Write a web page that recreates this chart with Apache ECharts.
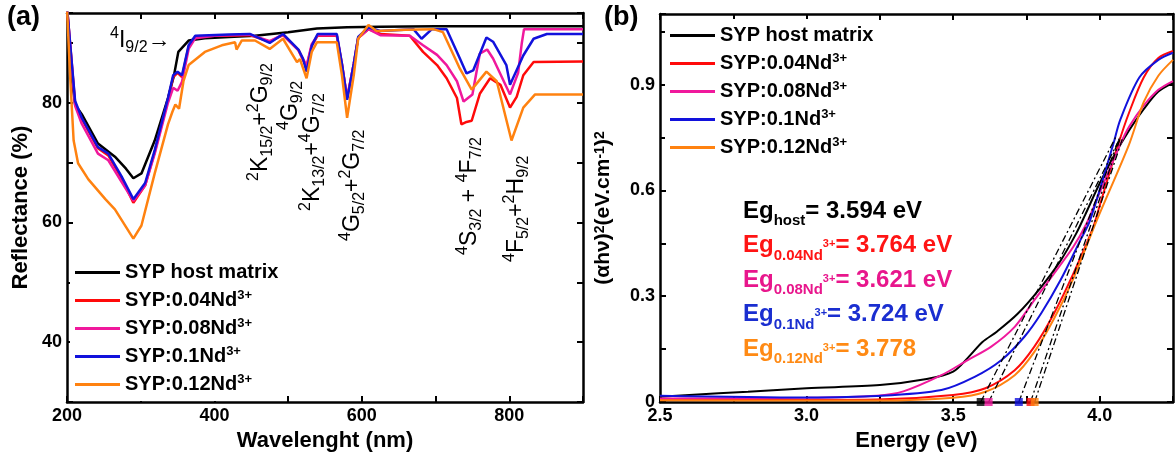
<!DOCTYPE html>
<html>
<head>
<meta charset="utf-8">
<script src="https://cdn.jsdelivr.net/npm/echarts@6/dist/echarts.min.js"></script>
<style>
html,body{margin:0;padding:0;background:#fff;}
#chart{width:1176px;height:457px;}
</style>
</head>
<body>
<div id="chart"></div>
<script>
// ---- data ----
var names = ['SYP host matrix', 'SYP:0.04Nd3+', 'SYP:0.08Nd3+', 'SYP:0.1Nd3+', 'SYP:0.12Nd3+'];
var colors = ['#000000', '#ff0a0a', '#f0189c', '#1212dc', '#ff8210'];
var textColors = ['#000000', '#ff1414', '#e8168c', '#1a2ed0', '#ff8a14'];

// (a) reflectance, [wavelength nm, R %]
var reflHost = [[200,96],[206,84.6],[211,79.7],[220,78.1],[242,73.2],[265,71],[280,69],[290,67.4],[301,68.2],[319,73.7],[337,80.8],[345,84.5],[351,88.5],[365,90.4],[387,90.8],[420,91.0],[455,91.2],[500,91.8],[539,92.4],[580,92.6],[625,92.7],[700,92.8],[900,92.8]];
var refl004 = [[200,96],[211,80],[220,77.3],[242,72.4],[256,71.2],[274,67.4],[290,63.3],[306,66.2],[319,71.8],[337,80.5],[344,84.3],[350,85.0],[356,84.3],[365,89.4],[374,91.0],[400,91.2],[448,91.3],[475,90.2],[493,91.3],[514,88.8],[520,87.2],[525,86.0],[532,89.5],[540,91.2],[566,91.2],[573,86.5],[580,80.8],[589,86.5],[595,90.8],[609,92.3],[625,91.5],[665,91.2],[683,88.5],[702,86.3],[715,84.1],[729,80.8],[735,76.4],[742,76.8],[749,77.0],[760,81.5],[774,84.1],[788,83.0],[801,79.2],[810,81.0],[819,84.6],[833,86.8],[900,86.9]];
var refl008 = [[200,96],[211,79.5],[220,76.5],[242,71.5],[256,70.4],[274,66.8],[290,63.6],[306,66.2],[319,71.5],[337,80],[344,82.5],[350,82],[356,83.5],[365,89],[374,90.8],[400,91.2],[448,91.4],[475,90.3],[493,91.4],[514,88.8],[520,87.4],[525,86.2],[532,89.8],[540,91.3],[566,91.3],[573,86.3],[580,80.8],[589,86.5],[595,90.8],[609,92.3],[625,91.3],[665,91.2],[683,89.6],[702,88],[715,86.3],[729,83.6],[738,80.2],[750,81.4],[760,88.2],[770,88.9],[778,87.4],[801,81.4],[812,85],[817,90],[820,92.3],[900,92.3]];
var refl010 = [[200,96],[211,80.3],[220,77.5],[242,72.6],[256,71.5],[274,67.7],[290,63.9],[306,66.6],[319,72.1],[337,80.8],[344,84.6],[350,85.2],[356,84.6],[365,89.6],[374,91.2],[420,91.4],[448,91.5],[475,90],[493,91.5],[514,88.9],[520,87.4],[525,85.2],[532,89.5],[540,91.5],[566,91.5],[573,86.5],[580,80.5],[589,86.5],[595,91],[609,92.6],[625,92],[670,92.3],[681,90.7],[695,92.3],[715,92.3],[733,87.4],[742,84.9],[751,85.4],[769,90.9],[778,90.2],[796,86.3],[801,83.0],[819,87.9],[833,90.7],[851,91.5],[900,91.5]];
var refl012 = [[200,96],[204,85],[209,73.7],[215,69.9],[229,67.2],[252,63.9],[265,62.2],[290,57.3],[301,59.5],[319,68.2],[337,76.4],[343,78.5],[347,79.7],[352,79.0],[358,83.6],[365,86.3],[387,88.5],[410,89.6],[428,90.1],[430,88.9],[437,90.4],[455,90.4],[475,89.0],[493,90.7],[512,86.8],[516,87.3],[525,84.1],[532,88.5],[539,90.1],[566,90.1],[573,84.6],[580,77.5],[589,84.6],[595,90.7],[609,93.0],[620,92.0],[660,92.2],[697,92.3],[710,91.8],[733,85.7],[749,82.2],[769,85.2],[783,83.6],[803,73.7],[819,79.2],[835,81.4],[900,81.4]];

// (b) Tauc plot, [energy eV, (ahv)^2]
var taucHost = [[2.5,0.015],[2.6,0.02],[2.8,0.029],[3.0,0.039],[3.25,0.048],[3.41,0.065],[3.5,0.086],[3.55,0.125],[3.6,0.17],[3.65,0.2],[3.72,0.25],[3.8,0.326],[3.866,0.40],[3.92,0.478],[3.95,0.53],[4.0,0.62],[4.05,0.70],[4.1,0.77],[4.15,0.83],[4.2,0.88],[4.25,0.905]];
var tauc004 = [[2.5,0.008],[3.0,0.006],[3.24,0.007],[3.5,0.02],[3.61,0.039],[3.71,0.09],[3.777,0.157],[3.844,0.251],[3.91,0.364],[3.978,0.496],[4.0,0.557],[4.063,0.73],[4.1,0.82],[4.15,0.92],[4.2,0.975],[4.25,0.995]];
var tauc008 = [[2.5,0.01],[3.0,0.012],[3.24,0.018],[3.33,0.03],[3.46,0.076],[3.55,0.119],[3.63,0.157],[3.71,0.213],[3.777,0.289],[3.844,0.364],[3.91,0.44],[3.955,0.506],[4.0,0.594],[4.07,0.73],[4.1,0.78],[4.15,0.84],[4.2,0.885],[4.25,0.91]];
var tauc010 = [[2.5,0.018],[3.0,0.013],[3.24,0.017],[3.46,0.034],[3.575,0.072],[3.665,0.119],[3.743,0.185],[3.8,0.251],[3.866,0.345],[3.934,0.459],[3.967,0.515],[4.046,0.73],[4.07,0.80],[4.135,0.92],[4.2,0.97],[4.25,0.99]];
var tauc012 = [[2.5,0.005],[3.0,0.004],[3.24,0.004],[3.5,0.012],[3.61,0.029],[3.71,0.076],[3.777,0.142],[3.844,0.236],[3.91,0.35],[3.99,0.515],[4.1,0.73],[4.15,0.85],[4.2,0.925],[4.25,0.97]];

// band gaps (same order as names) and upper end of each fitted tangent
var egLabels = ['host', '0.04Nd', '0.08Nd', '0.1Nd', '0.12Nd'];
var egValues = [3.594, 3.764, 3.621, 3.724, 3.778];
var tangentTop = [[4.054,0.75],[4.071,0.75],[4.07,0.75],[4.068,0.75],[4.079,0.75]];

var reflData = [reflHost, refl004, refl008, refl010, refl012];
var taucData = [taucHost, tauc004, tauc008, tauc010, tauc012];

// ---- chart ----
var FONT = '"Liberation Sans", Arial, sans-serif';
var myChart = echarts.init(document.getElementById('chart'));

function frameAxis(gridIndex, position, min, max, interval, showLabel, formatter) {
    return {
        type: 'value', gridIndex: gridIndex, position: position,
        min: min, max: max, interval: interval,
        axisLine: {show: true, onZero: false, lineStyle: {color: '#000', width: 2.5}},
        axisTick: {show: true, inside: true, length: 6, lineStyle: {color: '#000', width: 2}},
        splitLine: {show: false},
        axisLabel: {
            show: showLabel, interval: 0, hideOverlap: false, margin: 5,
            color: '#000', fontFamily: FONT, fontSize: 18, fontWeight: 'bold',
            formatter: formatter
        }
    };
}

var axisNameStyle = {color: '#000', fontFamily: FONT, fontSize: 22, fontWeight: 'bold'};

var xA = frameAxis(0, 'bottom', 200, 900, 100, true, function (v) {
    return (v % 200 === 0 && v < 900) ? String(v) : '';
});
xA.name = 'Wavelenght (nm)'; xA.nameLocation = 'middle'; xA.nameGap = 23; xA.nameTextStyle = axisNameStyle;
var yA = frameAxis(0, 'left', 30, 95, 10, true, function (v) {
    return (v % 20 === 0 && v >= 40 && v <= 80) ? String(v) : '';
});
yA.name = 'Reflectance (%)'; yA.nameLocation = 'middle'; yA.nameGap = 35; yA.nameTextStyle = axisNameStyle;

var xB = frameAxis(1, 'bottom', 2.5, 4.25, 0.25, true, function (v) {
    var k = Math.round(v * 4);
    if (Math.abs(v * 4 - k) > 1e-6 || k % 2 !== 0) return '';
    return v.toFixed(1);
});
xB.name = 'Energy (eV)'; xB.nameLocation = 'middle'; xB.nameGap = 28; xB.nameTextStyle = axisNameStyle;
var yB = frameAxis(1, 'left', 0, 1.1, 0.15, true, function (v) {
    var k = Math.round(v / 0.15);
    if (Math.abs(v / 0.15 - k) > 1e-6 || k % 2 !== 0) return '';
    return k === 0 ? '0' : v.toFixed(1);
});
yB.name = '(αhν){s|2}(eV.cm{s|-1}){s|2}';
yB.nameLocation = 'middle'; yB.nameGap = 46;
yB.nameTextStyle = {
    color: '#000', fontFamily: FONT, fontSize: 21, fontWeight: 'bold',
    rich: {s: {fontFamily: FONT, fontSize: 14, fontWeight: 'bold', verticalAlign: 'top', lineHeight: 15}}
};

var series = [];
names.forEach(function (n, i) {
    series.push({
        name: n, type: 'line', xAxisIndex: 0, yAxisIndex: 0,
        data: reflData[i], showSymbol: false, symbol: 'none',
        lineStyle: {color: colors[i], width: 2.5}, itemStyle: {color: colors[i]},
        clip: true, silent: true
    });
});
names.forEach(function (n, i) {
    series.push({
        name: n, type: 'line', xAxisIndex: 2, yAxisIndex: 2,
        data: taucData[i], showSymbol: false, symbol: 'none', smooth: 0.3,
        lineStyle: {color: colors[i], width: 2}, itemStyle: {color: colors[i]},
        clip: true, silent: true
    });
});
egValues.forEach(function (e, i) {
    series.push({
        name: 'fit' + i, type: 'line', xAxisIndex: 2, yAxisIndex: 2,
        data: [[e, 0], tangentTop[i]], showSymbol: false, symbol: 'none',
        lineStyle: {color: '#000', width: 1.3, type: [7, 3, 2, 3]}, silent: true
    });
});
series.push({
    name: 'Eg', type: 'scatter', xAxisIndex: 2, yAxisIndex: 2, symbol: 'rect', symbolSize: 8,
    clip: false, z: 5, silent: true,
    data: egValues.map(function (e, i) { return {value: [e, 0], itemStyle: {color: colors[i]}}; })
});

function legendFormatter(name) {
    if (name.indexOf('Nd3+') > 0) return '{t|' + name.replace('3+', '') + '}{s|3+}';
    return '{t|' + name + '}';
}
function makeLegend(left, top) {
    return {
        data: names.map(function (n) { return {name: n, icon: 'rect'}; }),
        orient: 'vertical', left: left, top: top,
        itemWidth: 45, itemHeight: 3, itemGap: 5, padding: 5,
        backgroundColor: '#fff', selectedMode: false,
        formatter: legendFormatter,
        textStyle: {
            color: '#000', fontFamily: FONT, fontSize: 20, fontWeight: 'bold', lineHeight: 23,
            rich: {
                t: {fontFamily: FONT, fontSize: 20, fontWeight: 'bold', lineHeight: 23},
                s: {fontFamily: FONT, fontSize: 13, fontWeight: 'bold', verticalAlign: 'top', lineHeight: 13}
            }
        }
    };
}

// rich styles for the transition labels
var termRich = {
    m: {fontFamily: FONT, fontSize: 23, lineHeight: 30, fill: '#000'},
    p: {fontFamily: FONT, fontSize: 16, verticalAlign: 'top', lineHeight: 16, fill: '#000'},
    b: {fontFamily: FONT, fontSize: 16, verticalAlign: 'bottom', lineHeight: 18, fill: '#000'}
};
function termText(x, y, text, rot) {
    return {
        type: 'text', x: x, y: y, rotation: rot ? Math.PI / 2 : 0, z: 100, silent: true,
        style: {text: text, rich: termRich, align: 'left', verticalAlign: 'middle', fill: '#000', font: '23px ' + FONT}
    };
}

// Eg box text
var egRich = {};
var egLines = [];
egValues.forEach(function (e, i) {
    egRich['m' + i] = {fontFamily: FONT, fontSize: 24, fontWeight: 'bold', lineHeight: 34.5, fill: textColors[i]};
    egRich['s' + i] = {fontFamily: FONT, fontSize: 15, fontWeight: 'bold', verticalAlign: 'bottom', lineHeight: 18.5, fill: textColors[i]};
    egRich['p' + i] = {fontFamily: FONT, fontSize: 11, fontWeight: 'bold', verticalAlign: 'top', padding: [10, 0, 0, 0], fill: textColors[i]};
    var sub = egLabels[i];
    var line = '{m' + i + '|Eg}{s' + i + '|' + sub + '}';
    if (sub.indexOf('Nd') > 0) line += '{p' + i + '|3+}';
    line += '{m' + i + '|= ' + e.toFixed(3) + (i === 4 ? '' : ' eV') + '}';
    egLines.push(line);
});

var option = {
    animation: false,
    backgroundColor: '#fff',
    grid: [
        {left: 67, top: 13, width: 516, height: 396},
        {left: 660, top: 14, width: 525, height: 388}
    ],
    xAxis: [
        xA,
        frameAxis(0, 'top', 200, 900, 100, false),
        xB,
        frameAxis(1, 'top', 2.5, 4.25, 0.25, false)
    ],
    yAxis: [
        yA,
        frameAxis(0, 'right', 30, 95, 10, false),
        yB,
        frameAxis(1, 'right', 0, 1.1, 0.15, false)
    ],
    legend: [makeLegend(70, 256), makeLegend(665, 19)],
    series: series,
    graphic: [
        {type: 'text', left: 7, top: 4, style: {text: '(a)', font: 'bold 27px ' + FONT, fill: '#000'}},
        {type: 'text', left: 604, top: 4, style: {text: '(b)', font: 'bold 27px ' + FONT, fill: '#000'}},
        termText(110, 41, '{p|4}{m|I}{b|9/2}{m|→}', false),
        termText(261, 181, '{p|2}{m|K}{b|15/2}{m|+}{p|2}{m|G}{b|9/2}', true),
        termText(291, 130, '{p|4}{m|G}{b|9/2}', true),
        termText(313, 211, '{p|2}{m|K}{b|13/2}{m|+}{p|4}{m|G}{b|7/2}', true),
        termText(353, 241, '{p|4}{m|G}{b|5/2}{m|+}{p|2}{m|G}{b|7/2}', true),
        termText(470, 255, '{p|4}{m|S}{b|3/2}{m| + }{p|4}{m|F}{b|7/2}', true),
        termText(517, 262, '{p|4}{m|F}{b|5/2}{m|+}{p|2}{m|H}{b|9/2}', true),
        {
            type: 'text', x: 743, y: 194, z: 50, silent: true,
            style: {text: egLines.join('\n'), rich: egRich, align: 'left', verticalAlign: 'top'}
        }
    ]
};

myChart.setOption(option);
</script>
</body>
</html>
